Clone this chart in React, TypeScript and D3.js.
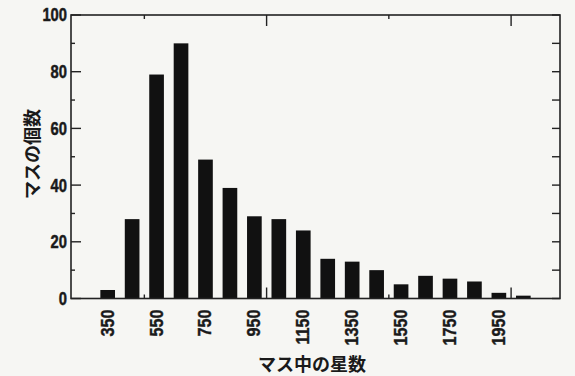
import { useEffect, useRef } from 'react'
import * as d3 from 'd3'

const W = 575, H = 376
const M = { top: 15, right: 15, bottom: 77.5, left: 71 }

// bins of 100 stars, labelled by their centre
const binCenters = [350, 450, 550, 650, 750, 850, 950, 1050, 1150, 1250, 1350, 1450, 1550, 1650, 1750, 1850, 1950, 2050]
const counts = [3, 28, 79, 90, 49, 39, 29, 28, 24, 14, 13, 10, 5, 8, 7, 6, 2, 1]
const xTickLabels = [350, 550, 750, 950, 1150, 1350, 1550, 1750, 1950]
const xEdgeTicks = [500, 1000, 1500, 2000]
const yTicks = [0, 20, 40, 60, 80, 100]
const yMinorTicks = [10, 30, 50, 70, 90]

const NUM_FONT = '"Liberation Sans", Arial, sans-serif'
const JP_FONT = '"Noto Sans CJK JP", sans-serif'

export default function App() {
  const svgRef = useRef<SVGSVGElement>(null)

  useEffect(() => {
    const svg = d3.select(svgRef.current!)
    svg.selectAll('*').remove()

    const iw = W - M.left - M.right
    const ih = H - M.top - M.bottom

    const x = d3.scaleLinear().domain([200, 2200]).range([0, iw])
    const y = d3.scaleLinear().domain([0, 100]).range([ih, 0])

    svg.append('rect').attr('width', W).attr('height', H).attr('fill', '#f6f6f3')

    const g = svg.append('g').attr('transform', `translate(${M.left},${M.top})`)

    // bars
    g.selectAll('rect.bar').data(binCenters).join('rect')
      .attr('class', 'bar')
      .attr('x', d => x(d - 30))
      .attr('width', x(60) - x(0))
      .attr('y', (_, i) => y(counts[i]))
      .attr('height', (_, i) => y(0) - y(counts[i]))
      .attr('fill', '#111')

    // frame
    g.append('rect').attr('width', iw).attr('height', ih)
      .attr('fill', 'none').attr('stroke', '#222').attr('stroke-width', 1.6)

    const tick = (x1: number, y1: number, x2: number, y2: number) =>
      g.append('line').attr('x1', x1).attr('y1', y1).attr('x2', x2).attr('y2', y2)
        .attr('stroke', '#222').attr('stroke-width', 1.4)

    // left axis: major every 20, minor every 10, all inward
    yTicks.forEach(v => tick(0, y(v), 10, y(v)))
    yMinorTicks.forEach(v => tick(0, y(v), 4, y(v)))
    // right axis: every 10, inward
    ;[...yTicks, ...yMinorTicks].forEach(v => tick(iw, y(v), iw - 8, y(v)))
    // top and bottom: bin edges, long at 1000s
    xEdgeTicks.forEach(v => {
      const len = v % 1000 === 0 ? 11 : 4
      tick(x(v), ih, x(v), ih - len)
      tick(x(v), 0, x(v), len)
    })

    // y tick labels (narrow heavy)
    g.selectAll('text.ylab').data(yTicks).join('text')
      .attr('class', 'ylab')
      .attr('transform', d => `translate(-4,${y(d)}) scale(0.82,1)`)
      .attr('dy', '0.36em')
      .attr('text-anchor', 'end')
      .attr('font-family', NUM_FONT).attr('font-weight', 'bold').attr('font-size', 18)
      .attr('fill', '#1a1a1a').attr('stroke', '#1a1a1a').attr('stroke-width', 0.5)
      .text(d => d)

    // x tick labels, rotated
    g.selectAll('text.xlab').data(xTickLabels).join('text')
      .attr('class', 'xlab')
      .attr('transform', d => `translate(${x(d) + 6},${ih + 11}) rotate(-90) scale(0.9,1)`)
      .attr('text-anchor', 'end')
      .attr('font-family', NUM_FONT).attr('font-weight', 'bold').attr('font-size', 18)
      .attr('fill', '#1a1a1a').attr('stroke', '#1a1a1a').attr('stroke-width', 0.4)
      .text(d => d)

    // axis titles
    svg.append('text')
      .attr('x', 312).attr('y', 371)
      .attr('text-anchor', 'middle')
      .attr('font-family', JP_FONT).attr('font-weight', 'bold').attr('font-size', 18)
      .attr('fill', '#1a1a1a')
      .text('マス中の星数')

    svg.append('text')
      .attr('transform', 'translate(39,154) rotate(-90)')
      .attr('text-anchor', 'middle')
      .attr('font-family', JP_FONT).attr('font-weight', 'bold').attr('font-size', 18)
      .attr('fill', '#1a1a1a')
      .text('マスの個数')
  }, [])

  return (
    <svg
      ref={svgRef}
      width={W}
      height={H}
      viewBox={`0 0 ${W} ${H}`}
      style={{ position: 'absolute', left: 0, top: 0, display: 'block' }}
    />
  )
}
